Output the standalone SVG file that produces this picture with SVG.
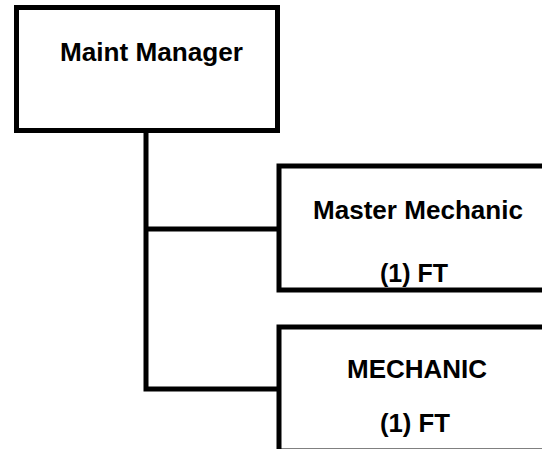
<svg xmlns="http://www.w3.org/2000/svg" width="542" height="449" viewBox="0 0 542 449">
<style>
.box{fill:#fff;stroke:#000;stroke-width:5}
.conn{fill:none;stroke:#000;stroke-width:5}
text{font-family:"Liberation Sans",Arial,sans-serif;font-weight:bold;font-size:25px;fill:#000;text-anchor:middle}
</style>
<rect width="542" height="449" fill="#fff"/>
<g id="connectors">
<path class="conn" d="M146,131 V389 H281"/>
<path class="conn" d="M146,229 H281"/>
</g>
<g id="maint-manager">
<rect class="box" x="16.5" y="7.5" width="261" height="123"/>
<text x="151.5" y="61" textLength="183" lengthAdjust="spacingAndGlyphs">Maint Manager</text>
</g>
<g id="master-mechanic">
<rect class="box" x="279" y="166" width="270" height="124"/>
<text x="418" y="219" textLength="210" lengthAdjust="spacingAndGlyphs">Master Mechanic</text>
<text x="414" y="282" textLength="68" lengthAdjust="spacingAndGlyphs">(1) FT</text>
</g>
<g id="mechanic">
<rect class="box" x="279" y="327" width="270" height="124"/>
<text x="417" y="378" textLength="140" lengthAdjust="spacingAndGlyphs">MECHANIC</text>
<text x="415" y="432" textLength="70" lengthAdjust="spacingAndGlyphs">(1) FT</text>
</g>
</svg>
